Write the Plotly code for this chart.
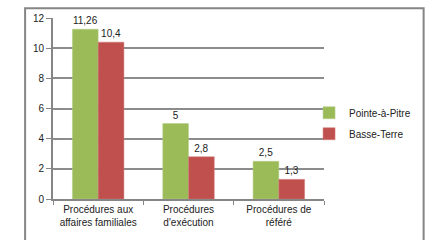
import plotly.graph_objects as go

categories = ["Procédures aux<br>affaires familiales", "Procédures<br>d'exécution", "Procédures de<br>référé"]
pointe_a_pitre = [11.26, 5, 2.5]
basse_terre = [10.4, 2.8, 1.3]
y_ticks = [0, 2, 4, 6, 8, 10, 12]

def fmt(v):
    return f"{v:g}".replace(".", ",")

FONT = "Liberation Sans"
W, H = 428, 240
# plot area in reference pixel coords: x 53..325, y 15..200
L, T = 53, 15
R = W - 325
B = H - 200
pw, ph = W - L - R, H - T - B

fig = go.Figure()
fig.add_trace(go.Bar(x=categories, y=pointe_a_pitre, name="Pointe-à-Pitre",
                     marker=dict(color="#9BBB59", line=dict(color="#B5CF86", width=0.5)),
                     text=[fmt(v) for v in pointe_a_pitre], textposition="outside",
                     textfont=dict(size=10, color="#222"), cliponaxis=False,
                     constraintext="none", legendgroup="a"))
fig.add_trace(go.Bar(x=categories, y=basse_terre, name="Basse-Terre",
                     marker=dict(color="#C0504D", line=dict(color="#D07A78", width=0.5)),
                     text=[fmt(v) for v in basse_terre], textposition="outside",
                     textfont=dict(size=10, color="#222"), cliponaxis=False,
                     constraintext="none", legendgroup="b"))

def px(x):
    return (x - L) / pw

def py(y):
    return (H - B - y) / ph

fig.add_shape(type="rect", xref="paper", yref="paper",
              x0=px(25), x1=px(425), y0=py(260), y1=py(5),
              line=dict(color="#858585", width=2), fillcolor="rgba(0,0,0,0)", layer="below")

fig.update_layout(
    width=W, height=H,
    margin=dict(l=L, r=R, t=T, b=B, pad=0),
    paper_bgcolor="white", plot_bgcolor="white",
    barmode="group", bargap=0.43, bargroupgap=0,
    font=dict(family=FONT, size=10, color="#222"),
    showlegend=True,
    legend=dict(x=px(310), y=py(97), xanchor="left", yanchor="top",
                font=dict(size=10, color="#222"), tracegroupgap=2,
                bgcolor="rgba(0,0,0,0)"),
    xaxis=dict(showgrid=False, showline=True, linecolor="#868686", linewidth=2,
               ticks="outside", tickson="boundaries", ticklen=4, tickcolor="#868686",
               tickwidth=1, tickfont=dict(size=10, family=FONT, color="#222")),
    yaxis=dict(range=[0, 12], tickvals=y_ticks, showgrid=True, gridcolor="#8C8C8C",
               gridwidth=2, showline=True, linecolor="#868686", linewidth=2,
               ticks="outside", ticklen=5, tickcolor="#868686", tickwidth=1,
               tickfont=dict(size=10, family=FONT, color="#222"), zeroline=False),
)

fig.write_html("out.html", config={"displayModeBar": False},
               post_script="document.body.style.margin='0';document.body.style.overflow='hidden';")
